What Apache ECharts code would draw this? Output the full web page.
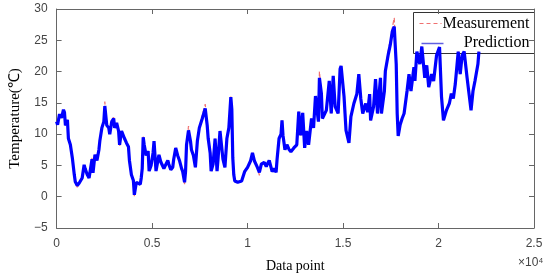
<!DOCTYPE html>
<html>
<head>
<meta charset="utf-8">
<script src="https://cdn.jsdelivr.net/npm/echarts@6/dist/echarts.min.js"></script>
<style>
  html, body { margin: 0; padding: 0; background: #fff; }
  #main { width: 550px; height: 278px; }
</style>
</head>
<body>
<div id="main"></div>
<script>
// data point index (x) for each traced sample
var dataIndex = [0, 52, 155, 258, 361, 412, 464, 567, 619, 722, 825, 928, 979, 1083, 1186, 1340, 1443, 1495, 1598, 1701,
  1753, 1856, 1907, 2010, 2114, 2217, 2268, 2371, 2474, 2526, 2629, 2732, 2784, 2887, 2990, 3041, 3145, 3248, 3299, 3402,
  3557, 3660, 3763, 3815, 3918, 4021, 4072, 4176, 4279, 4382, 4433, 4485, 4536, 4588, 4691, 4794, 4846, 4949, 5052, 5103,
  5207, 5258, 5361, 5464, 5567, 5619, 5722, 5825, 5877, 5980, 6083, 6134, 6238, 6341, 6444, 6547, 6598, 6702, 6753, 6805,
  6908, 7011, 7062, 7165, 7269, 7372, 7475, 7629, 7784, 7887, 7939, 8042, 8093, 8196, 8300, 8403, 8454, 8557, 8712, 8815,
  8918, 9021, 9124, 9176, 9227, 9279, 9331, 9485, 9691, 9846, 10001, 10155, 10258, 10362, 10516, 10619, 10722, 10876, 10980, 11031,
  11134, 11238, 11289, 11392, 11495, 11547, 11650, 11753, 11805, 11856, 11959, 12062, 12166, 12269, 12424, 12578, 12681, 12784, 12888, 12991,
  13094, 13197, 13351, 13455, 13558, 13609, 13712, 13764, 13867, 13919, 13970, 14125, 14279, 14382, 14486, 14589, 14743, 14846, 14898, 15053,
  15156, 15310, 15413, 15568, 15723, 15826, 15929, 16032, 16187, 16290, 16393, 16444, 16599, 16702, 16805, 16960, 17011, 17166, 17217, 17372,
  17475, 17579, 17682, 17785, 17836, 17888, 17991, 18094, 18197, 18352, 18455, 18558, 18713, 18764, 18867, 19022, 19125, 19280, 19383, 19486,
  19641, 19744, 19898, 20053, 20156, 20259, 20414, 20568, 20672, 20775, 20878, 21032, 21135, 21239, 21342, 21497, 21600, 21703, 21806, 21909,
  22064, 22115];

// predicted temperature (blue)
var predicted = [12.0, 11.5, 13.2, 12.6, 13.9, 13.5, 11.4, 12.3, 9.3, 8.3, 6.2, 3.5, 2.4, 1.8, 2.2, 3.0, 5.1, 4.5, 3.6, 3.0,
  4.0, 6.0, 3.8, 6.7, 5.8, 7.5, 9.0, 11.0, 12.0, 14.5, 11.4, 11.0, 10.0, 12.0, 12.5, 11.0, 11.8, 10.5, 8.3, 10.5,
  9.3, 8.6, 8.0, 5.8, 3.5, 2.6, 0.3, 2.3, 2.2, 2.0, 3.0, 4.5, 9.5, 8.3, 6.6, 7.3, 4.1, 5.0, 7.0, 8.9,
  4.1, 3.8, 6.7, 5.5, 5.7, 4.5, 4.7, 5.8, 5.2, 4.3, 4.7, 6.0, 7.8, 6.6, 5.7, 4.5, 4.1, 2.3, 4.0, 8.3,
  10.6, 8.9, 7.5, 6.6, 4.7, 8.9, 11.0, 12.5, 14.1, 11.4, 9.3, 7.0, 4.1, 5.2, 9.3, 4.1, 6.0, 10.5, 6.0, 4.7,
  9.3, 11.0, 15.9, 14.0, 6.2, 3.5, 2.5, 2.3, 2.5, 4.0, 4.7, 5.7, 7.0, 5.7, 4.7, 3.9, 5.2, 5.5, 4.8, 5.2,
  5.8, 6.0, 4.0, 4.5, 3.9, 6.0, 9.3, 10.0, 12.2, 9.8, 7.5, 8.3, 7.6, 7.2, 7.8, 8.3, 13.6, 9.8, 13.4, 7.8,
  10.5, 8.3, 12.5, 11.0, 16.1, 14.6, 12.0, 19.0, 16.5, 12.5, 12.2, 13.8, 18.5, 13.3, 19.3, 14.4, 13.3, 20.4, 20.9, 16.0,
  10.6, 8.6, 12.8, 14.9, 16.4, 19.6, 15.7, 13.3, 14.9, 13.5, 16.4, 12.2, 14.4, 18.8, 13.3, 19.0, 13.3, 16.9, 20.1, 22.8,
  24.3, 26.4, 27.2, 21.2, 13.3, 9.7, 11.5, 12.5, 13.3, 16.9, 19.6, 16.9, 20.7, 18.5, 23.2, 21.2, 24.0, 19.0, 21.0, 17.5,
  19.6, 18.5, 22.6, 23.9, 16.0, 12.2, 13.8, 14.9, 16.5, 15.7, 18.0, 23.2, 19.6, 22.6, 23.2, 19.0, 16.4, 13.8, 16.9, 18.5,
  21.2, 23.2];

// measured temperature (red dashed), peaks poke out above the prediction
var measured = [12.0, 11.5, 13.2, 12.6, 14.0, 13.5, 11.4, 12.3, 9.3, 8.3, 6.2, 3.5, 2.2, 1.5, 2.2, 3.0, 5.1, 4.5, 3.6, 3.0,
  4.0, 6.2, 3.8, 6.7, 5.8, 7.5, 9.0, 11.0, 12.0, 15.2, 11.4, 11.0, 10.0, 12.0, 12.7, 11.0, 11.8, 10.5, 8.0, 10.5,
  9.3, 8.6, 8.0, 5.8, 3.5, 2.6, 0.1, 2.3, 2.2, 2.0, 3.0, 4.5, 9.6, 8.3, 6.6, 7.3, 4.1, 5.0, 7.0, 8.9,
  4.1, 3.8, 6.7, 5.5, 5.7, 4.5, 4.7, 5.8, 5.2, 4.3, 4.7, 6.0, 7.8, 6.6, 5.7, 4.5, 4.1, 2.0, 4.0, 8.3,
  11.3, 8.9, 7.5, 6.6, 4.7, 8.9, 11.0, 13.0, 14.8, 11.4, 9.3, 7.0, 4.1, 5.2, 9.3, 4.1, 6.0, 10.5, 6.0, 4.7,
  9.3, 11.0, 16.0, 14.0, 6.2, 3.5, 2.5, 2.3, 2.5, 4.0, 4.7, 5.7, 7.0, 5.7, 4.7, 3.4, 5.2, 5.5, 4.8, 5.2,
  5.8, 6.0, 4.0, 4.5, 3.9, 6.0, 9.3, 10.0, 12.2, 9.8, 7.5, 8.3, 7.6, 7.2, 7.8, 8.3, 13.6, 9.8, 13.4, 7.8,
  10.5, 8.3, 12.5, 11.0, 16.1, 14.6, 12.0, 20.0, 16.5, 12.5, 12.2, 13.8, 18.5, 13.3, 19.3, 14.4, 13.3, 20.4, 20.9, 16.0,
  10.6, 8.6, 12.8, 14.9, 16.4, 19.6, 15.7, 13.3, 14.9, 13.5, 16.4, 12.2, 14.4, 18.8, 13.3, 19.0, 13.3, 16.9, 20.3, 23.4,
  25.0, 27.0, 28.6, 21.2, 13.3, 9.7, 11.5, 12.5, 13.3, 16.9, 19.6, 16.9, 20.7, 18.5, 23.2, 21.2, 24.0, 19.0, 21.0, 17.5,
  19.6, 18.5, 22.6, 23.9, 16.0, 12.2, 13.8, 14.9, 16.5, 15.7, 18.0, 23.2, 19.6, 22.6, 23.2, 19.0, 16.4, 13.8, 16.9, 18.5,
  21.2, 23.2];

var seriesNames = ['Measurement', 'Prediction'];

function pairs(xs, ys) {
  var out = [];
  for (var i = 0; i < xs.length; i++) out.push([xs[i], ys[i]]);
  return out;
}

var chart = echarts.init(document.getElementById('main'));

var axisCommon = {
  axisLine: { onZero: false, lineStyle: { color: '#666', width: 1 } },
  axisTick: { inside: true, length: 5, lineStyle: { color: '#666' } },
  splitLine: { show: false }
};

// legend box drawn by hand (MATLAB style: line sample left, label right-aligned)
var legendGraphic = {
  type: 'group', left: 413, top: 12, z: 100,
  children: [
    { type: 'rect', shape: { x: 0, y: 0, width: 121, height: 41 },
      style: { fill: '#fff', stroke: '#333', lineWidth: 1 } },
    { type: 'line', shape: { x1: 6, y1: 11, x2: 28, y2: 11 },
      style: { stroke: '#f07070', lineWidth: 1.2, lineDash: [4, 3] } },
    { type: 'text', x: 116, y: 11,
      style: { text: seriesNames[0], align: 'right', verticalAlign: 'middle',
               font: '16px "Liberation Serif"', fill: '#000' } },
    { type: 'line', shape: { x1: 8, y1: 31, x2: 30, y2: 31 },
      style: { stroke: '#6060e0', lineWidth: 1.5 } },
    { type: 'text', x: 116, y: 30,
      style: { text: seriesNames[1], align: 'right', verticalAlign: 'middle',
               font: '16px "Liberation Serif"', fill: '#000' } }
  ]
};

var option = {
  animation: false,
  grid: { left: 49, right: 16, top: 9, bottom: 47 },
  xAxis: [
    Object.assign({
      type: 'value', min: 0, max: 25000, interval: 5000, position: 'bottom',
      axisLabel: {
        color: '#444', fontFamily: 'Liberation Sans', fontSize: 12, margin: 10,
        formatter: function (v) { return String(v / 10000); }
      },
      name: 'Data point', nameLocation: 'middle', nameGap: 31,
      nameTextStyle: { fontFamily: 'Liberation Serif', fontSize: 14, color: '#000' }
    }, axisCommon),
    Object.assign({
      type: 'value', min: 0, max: 25000, interval: 5000, position: 'top',
      axisLabel: { show: false }
    }, axisCommon)
  ],
  yAxis: [
    Object.assign({
      type: 'value', min: -5, max: 30, interval: 5, position: 'left',
      axisLabel: { color: '#444', fontFamily: 'Liberation Sans', fontSize: 12, margin: 9,
        formatter: function (v) { return v < 0 ? '\u2212' + Math.abs(v) : String(v); } },
      name: 'Temperature(℃)', nameLocation: 'middle', nameGap: 32,
      nameTextStyle: { fontFamily: 'Liberation Serif', fontSize: 15, color: '#000' }
    }, axisCommon),
    Object.assign({
      type: 'value', min: -5, max: 30, interval: 5, position: 'right',
      axisLabel: { show: false }
    }, axisCommon)
  ],
  graphic: [
    legendGraphic,
    { type: 'text', left: 518, top: 257,
      style: { text: '×10⁴', font: '12px "Liberation Sans"', fill: '#444' } }
  ],
  series: [
    {
      name: seriesNames[0], type: 'line', showSymbol: false, symbol: 'none',
      data: pairs(dataIndex, measured),
      lineStyle: { color: '#f07070', width: 1.2, type: 'dashed' },
      z: 2
    },
    {
      name: seriesNames[1], type: 'line', showSymbol: false, symbol: 'none',
      data: pairs(dataIndex, predicted),
      lineStyle: { color: '#0000ff', width: 3.2 },
      z: 3
    }
  ]
};

chart.setOption(option);
</script>
</body>
</html>
